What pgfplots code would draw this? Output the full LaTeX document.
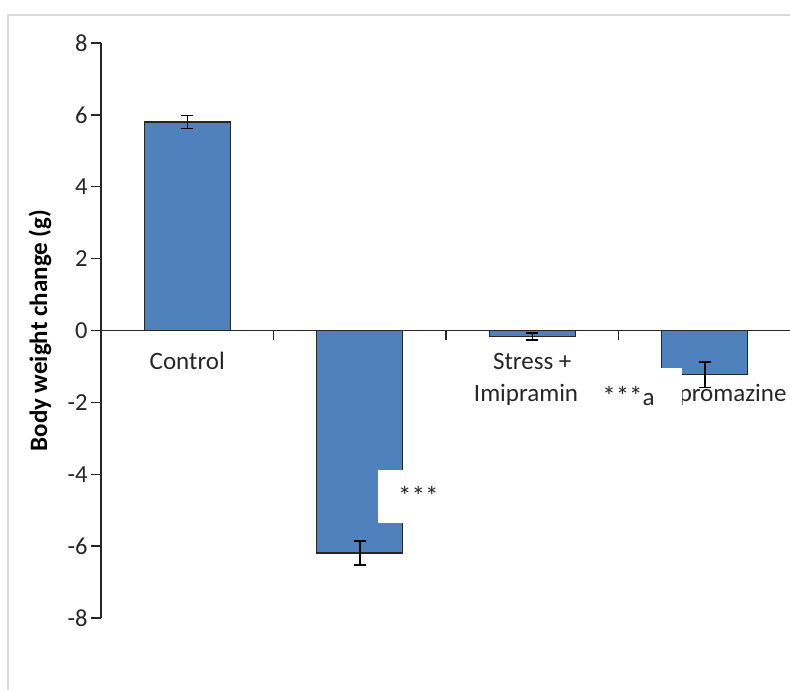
\documentclass[border=0pt]{standalone}
\usepackage{pgfplots}
\pgfplotsset{compat=1.18}
\usepackage{fontspec}
\setmainfont{Carlito}
\definecolor{barblue}{HTML}{4F81BD}
\definecolor{barline}{HTML}{262626}
\definecolor{txt}{HTML}{262626}
\newcommand{\lab}{\fontsize{25}{30}\selectfont}
\newcommand{\stars}{{\fontsize{27}{30}\selectfont ***}}
\begin{document}
\begin{tikzpicture}[x=1pt,y=1pt]
\useasboundingbox (0,0) rectangle (790,689);
\fill[white] (0,0) rectangle (790,689);
\draw[line width=2pt, black!15] (8,-10) -- (8,674) -- (800,674);
\begin{axis}[
  at={(101pt,71pt)}, anchor=south west,
  scale only axis, width=690pt, height=575pt,
  xmin=-0.5, xmax=3.5, ymin=-8, ymax=8,
  axis x line=none, axis y line*=left,
  ytick={-8,-6,...,8},
  tick align=outside, major tick length=10pt,
  tick style={line width=1.5pt, txt},
  y axis line style={line width=1.5pt, txt},
  yticklabel style={font=\fontsize{24.5}{28}\selectfont, text=txt},
  /pgf/number format/assume math mode=true,
  every axis y label/.style={at={([xshift=-61pt]axis description cs:0,0.5)}, rotate=90, anchor=center},
  ylabel={\bfseries\fontsize{25}{30}\selectfont Body weight change (g)},
  clip=false,
]
% category labels (beneath the bars)
\node[anchor=base, yshift=-39pt, font=\lab, text=txt] at (axis cs:0,0) {Control};
\node[anchor=base, yshift=-39pt, font=\lab, text=txt] at (axis cs:1,0) {Stress};
\node[anchor=base, yshift=-39pt, font=\lab, text=txt] at (axis cs:2,0) {Stress +};
\node[anchor=base, yshift=-71pt, font=\lab, text=txt] at (axis cs:2,0) {Imipramine};
\node[anchor=base, yshift=-39pt, font=\lab, text=txt] at (axis cs:3,0) {Stress +};
\node[anchor=base, yshift=-71pt, font=\lab, text=txt] at (axis cs:3.005,0) {Chlorpromazine};

\addplot[ybar, bar width=86pt, fill=barblue, draw=barline, line width=1.4pt,
  error bars/.cd, y dir=both, y explicit,
  error bar style={line width=1.5pt, black},
  error mark options={rotate=90, line width=1.5pt, mark size=6pt, black}]
  table[x=x, y=y, y error=e] {
x y e
0 5.80 0.18
1 -6.19 0.33
2 -0.17 0.10
3 -1.23 0.36
};

% zero line and category ticks
\draw[line width=1.5pt, txt] (axis cs:-0.5,0) -- (axis cs:3.6,0);
\draw[line width=1.5pt, txt] (axis cs:0.5,0) -- ++(0pt,-10pt);
\draw[line width=1.5pt, txt] (axis cs:1.5,0) -- ++(0pt,-10pt);
\draw[line width=1.5pt, txt] (axis cs:2.5,0) -- ++(0pt,-10pt);

% significance text boxes
\fill[white] (axis cs:1.106,-3.87) rectangle (axis cs:1.57,-5.37);
\node[font=\lab, text=txt] at (axis cs:1.34,-4.6) {\stars};
\fill[white] (axis cs:2.271,-1.03) rectangle (axis cs:2.868,-2.65);
\node[anchor=base, font=\lab, text=txt] at (axis cs:2.558,-2.087) {\stars a};
\end{axis}
\end{tikzpicture}
\end{document}
